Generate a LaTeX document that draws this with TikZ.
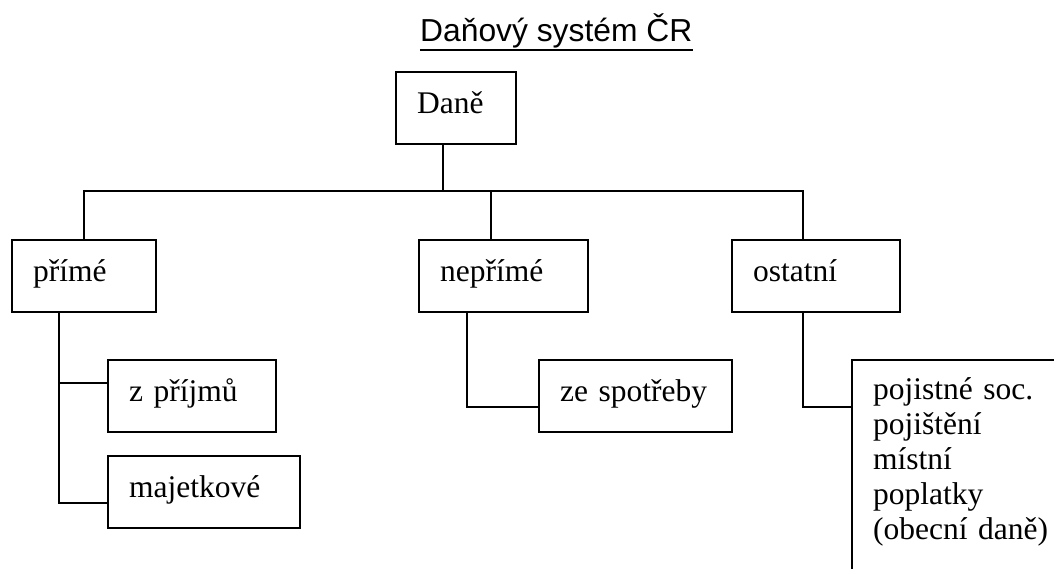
\documentclass[tikz,border=0pt]{standalone}
\usepackage{fontspec}
\setmainfont{Liberation Serif}
\newfontfamily\titlefont{Liberation Sans}
\begin{document}
\begin{tikzpicture}[x=1pt,y=-1pt,
  box/.style={draw, line width=2.2pt, anchor=north west, inner xsep=21pt, inner ysep=0pt,
    minimum height=72pt, text height=21pt, text depth=11pt, align=left,
    font=\fontsize{31.5}{35}\selectfont},
  conn/.style={line width=2.2pt, line cap=rect}
]
\clip (0,0) rectangle (1054,568);
\fill[white] (0,0) rectangle (1054,568);
% title
\node[anchor=base west, inner sep=0pt, font=\titlefont\fontsize{31.8}{36}\selectfont] (title) at (420,41.5) {Daňový systém ČR};
\draw[line width=2.3pt] ([yshift=-8.5pt]title.base west) -- ([yshift=-8.5pt]title.base east);
% boxes
\node[box, text width=78pt] (dane) at (395,71) {Daně};
\node[box, text width=102pt] (prime) at (11,239) {přímé};
\node[box, text width=127pt] (neprime) at (418,239) {nepřímé};
\node[box, text width=126pt] (ostatni) at (731,239) {ostatní};
\node[box, text width=126pt] (zprijmu) at (107,359) {z příjmů};
\node[box, text width=150pt] (majet) at (107,455) {majetkové};
\node[box, text width=151pt] (spotreba) at (538,359) {ze spotřeby};
\node[box, text width=300pt, inner ysep=14pt, text height=25pt, text depth=300pt] (jine) at (851,359)
  {pojistné soc.\\pojištění\\místní\\poplatky\\(obecní daně)};
% junction coordinates
\coordinate (bus) at (443,191);
\coordinate (c2) at (491,191);
\coordinate (c3) at (803,191);
\coordinate (p1) at (59,383);
\coordinate (p2) at (59,503);
\coordinate (n1) at (467,407);
\coordinate (o1) at (803,407);
% connectors
\draw[conn] (bus |- dane.south) -- (bus);
\draw[conn] (prime.north) |- (c3) -- (c3 |- ostatni.north);
\draw[conn] (c2) -- (c2 |- neprime.north);
\draw[conn] (p1 |- prime.south) -- (p2) -- (p2 -| majet.west);
\draw[conn] (p1) -- (p1 -| zprijmu.west);
\draw[conn] (n1 |- neprime.south) -- (n1) -- (n1 -| spotreba.west);
\draw[conn] (o1 |- ostatni.south) -- (o1) -- (o1 -| jine.west);
\end{tikzpicture}
\end{document}
